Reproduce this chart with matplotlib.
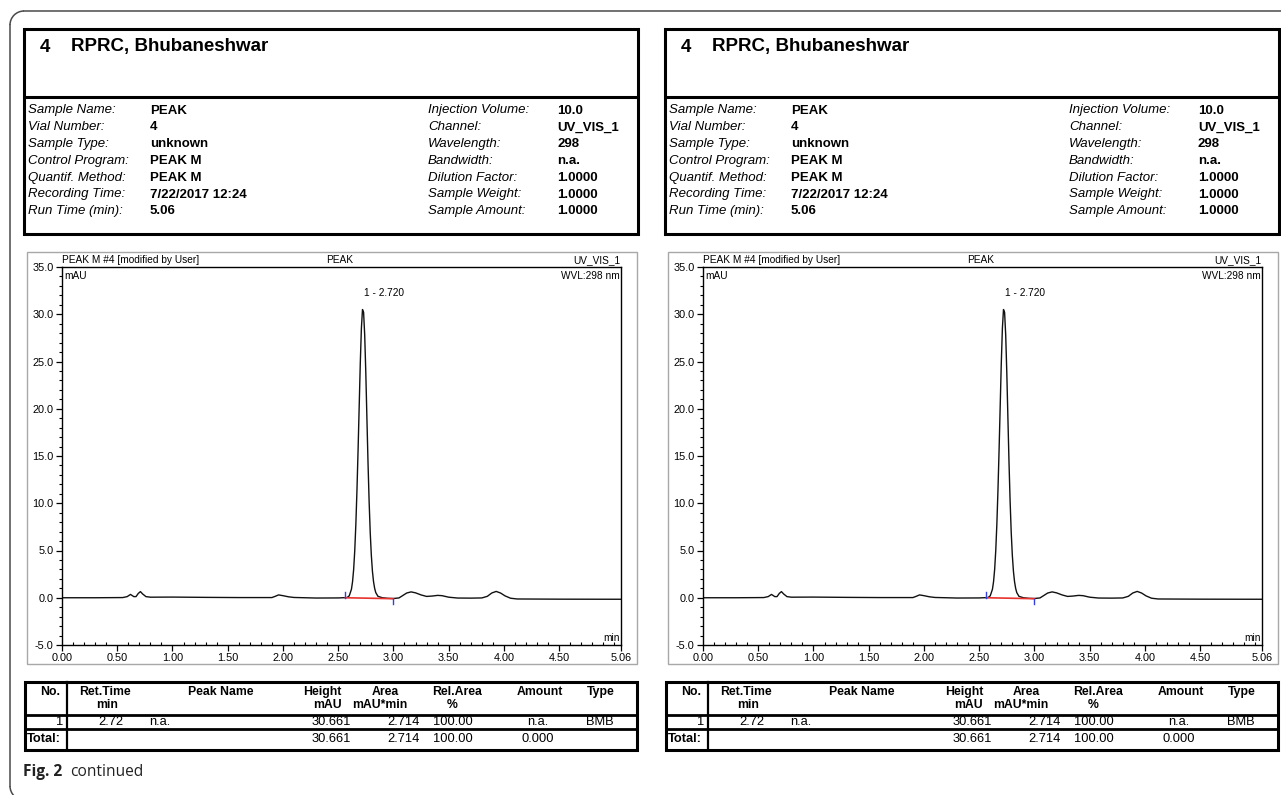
import matplotlib

matplotlib.use("Agg")
import matplotlib.pyplot as plt
from matplotlib.patches import Arc, Rectangle
from matplotlib.ticker import FixedLocator, MultipleLocator

plt.rcParams["font.family"] = ["Liberation Sans", "DejaVu Sans"]

W, H = 1281, 795

# report header
SAMPLE_NO = "4"
SITE = "RPRC, Bhubaneshwar"
INFO_LABELS_L = ["Sample Name:", "Vial Number:", "Sample Type:", "Control Program:",
                 "Quantif. Method:", "Recording Time:", "Run Time (min):"]
INFO_VALUES_L = ["PEAK", "4", "unknown", "PEAK M", "PEAK M", "7/22/2017 12:24", "5.06"]
INFO_LABELS_R = ["Injection Volume:", "Channel:", "Wavelength:", "Bandwidth:",
                 "Dilution Factor:", "Sample Weight:", "Sample Amount:"]
INFO_VALUES_R = ["10.0", "UV_VIS_1", "298", "n.a.", "1.0000", "1.0000", "1.0000"]

# chromatogram trace (min, mAU)
TIME_MIN = [0.00, 0.30, 0.55, 0.59, 0.62, 0.65, 0.67, 0.69, 0.71, 0.73, 0.76, 0.80,
            1.00, 1.30, 1.60, 1.90, 1.93, 1.96, 2.00, 2.05, 2.10, 2.30, 2.50, 2.58,
            2.60, 2.62, 2.63, 2.64, 2.65, 2.66, 2.67, 2.68, 2.69, 2.70, 2.71, 2.72,
            2.73, 2.74, 2.75, 2.76, 2.77, 2.78, 2.79, 2.80, 2.81, 2.82, 2.83, 2.84,
            2.86, 2.90, 2.95, 3.00, 3.05, 3.08, 3.12, 3.16, 3.20, 3.25, 3.30, 3.35,
            3.40, 3.44, 3.50, 3.58, 3.70, 3.80, 3.85, 3.89, 3.93, 3.97, 4.01, 4.06,
            4.12, 4.50, 5.06]
SIGNAL_MAU = [0.00, 0.00, 0.02, 0.12, 0.35, 0.12, 0.12, 0.45, 0.65, 0.40, 0.12, 0.06,
              0.07, 0.04, 0.02, 0.02, 0.15, 0.30, 0.22, 0.10, 0.03, -0.03, -0.02, 0.02,
              0.20, 0.90, 1.70, 3.00, 5.00, 7.80, 11.4, 15.6, 20.2, 24.8, 28.5, 30.5,
              30.2, 27.8, 23.8, 19.0, 14.3, 10.2, 6.90, 4.50, 2.80, 1.70, 1.00, 0.55,
              0.15, 0.00, -0.06, -0.08, -0.02, 0.20, 0.50, 0.62, 0.52, 0.30, 0.14, 0.18,
              0.25, 0.22, 0.06, -0.03, -0.04, -0.02, 0.15, 0.50, 0.67, 0.50, 0.20, -0.05,
              -0.13, -0.15, -0.16]

PEAK_LABEL = "1 - 2.720"
PEAK_RT = 2.720
PEAK_APEX = 30.5
BASE_T = [2.565, 3.00]
BASE_Y = [0.00, -0.10]

Y_TICKS = [-5.0, 0.0, 5.0, 10.0, 15.0, 20.0, 25.0, 30.0, 35.0]
X_TICKS = [0.00, 0.50, 1.00, 1.50, 2.00, 2.50, 3.00, 3.50, 4.00, 4.50, 5.06]

# peak table
ROW_1 = ["1", "2.72", "n.a.", "30.661", "2.714", "100.00", "n.a.", "BMB"]
ROW_TOTAL = ["Total:", "30.661", "2.714", "100.00", "0.000"]

fig = plt.figure(figsize=(W / 100, H / 100), dpi=100)
bg = fig.add_axes([0, 0, 1, 1])
bg.set_xlim(0, W)
bg.set_ylim(H, 0)
bg.axis("off")

# page frame: top and left edges with rounded corners
FRAME = "#4a4a4a"
bg.plot([24, W], [11, 11], color=FRAME, lw=1.1)
bg.plot([10, 10], [25, 786], color=FRAME, lw=1.1)
bg.add_patch(Arc((24, 25), 28, 28, theta1=180, theta2=270, color=FRAME, lw=1.1))
bg.add_patch(Arc((24, 786), 28, 28, theta1=90, theta2=180, color=FRAME, lw=1.1))


def box(x0, y0, x1, y1, lw=2.0, ec="black"):
    bg.add_patch(Rectangle((x0, y0), x1 - x0, y1 - y0, fill=False, ec=ec, lw=lw))


def hline(x0, x1, y, lw=2.0):
    bg.plot([x0, x1], [y, y], color="black", lw=lw, solid_capstyle="butt")


def txt(x, y, s, size=9.5, ha="left", **kw):
    bg.text(x, y, s, fontsize=size, ha=ha, va="center", **kw)


def draw_panel(dx):
    # header box
    box(24 + dx, 29, 638 + dx, 234, lw=2.2)
    hline(24 + dx, 638 + dx, 97, lw=2.2)
    txt(40 + dx, 47, SAMPLE_NO, size=13.5, weight="bold")
    txt(71 + dx, 47, SITE, size=13.5, weight="bold")
    for i in range(len(INFO_LABELS_L)):
        y = 110.5 + i * 16.8
        txt(28 + dx, y, INFO_LABELS_L[i], style="italic")
        txt(150 + dx, y, INFO_VALUES_L[i], weight="bold")
        txt(428 + dx, y, INFO_LABELS_R[i], style="italic")
        txt(557 + dx, y, INFO_VALUES_R[i], weight="bold")

    # chromatogram
    box(27 + dx, 252, 637 + dx, 664, lw=1.0, ec="#a8a8a8")
    ax = fig.add_axes([(62 + dx) / W, 1 - 645 / H, 559 / W, 378 / H])
    ax.set_facecolor("none")
    ax.plot(TIME_MIN, SIGNAL_MAU, color="#111111", lw=1.0)
    ax.plot(BASE_T, BASE_Y, color="#e8322e", lw=1.2)
    ax.plot([BASE_T[0], BASE_T[0]], [BASE_Y[0], BASE_Y[0] + 0.6], color="#2f3fe0", lw=1.0)
    ax.plot([BASE_T[1], BASE_T[1]], [BASE_Y[1], BASE_Y[1] - 0.6], color="#2f3fe0", lw=1.0)
    ax.text(PEAK_RT + 0.01, PEAK_APEX + 1.2, PEAK_LABEL, fontsize=7.3, ha="left", va="bottom")
    ax.set_xlim(X_TICKS[0], X_TICKS[-1])
    ax.set_ylim(Y_TICKS[0], Y_TICKS[-1])
    ax.xaxis.set_major_locator(FixedLocator(X_TICKS))
    ax.set_xticklabels([f"{v:.2f}" for v in X_TICKS])
    ax.xaxis.set_minor_locator(MultipleLocator(0.1))
    ax.yaxis.set_major_locator(FixedLocator(Y_TICKS))
    ax.set_yticklabels([f"{v:.1f}" for v in Y_TICKS])
    ax.yaxis.set_minor_locator(MultipleLocator(1.0))
    ax.tick_params(which="major", labelsize=7.8, length=4, width=0.9, pad=2)
    ax.tick_params(axis="x", which="minor", direction="in", length=2.5, width=0.8)
    ax.tick_params(axis="y", which="minor", direction="out", length=2.5, width=0.8)
    for s in ax.spines.values():
        s.set_linewidth(1.0)
    small = dict(fontsize=7.3, transform=ax.transAxes)
    ax.text(0.0, 1.004, "PEAK M #4 [modified by User]", ha="left", va="bottom", **small)
    ax.text(0.497, 1.004, "PEAK", ha="center", va="bottom", **small)
    ax.text(0.998, 1.004, "UV_VIS_1", ha="right", va="bottom", **small)
    ax.text(0.004, 0.99, "mAU", ha="left", va="top", **small)
    ax.text(0.998, 0.99, "WVL:298 nm", ha="right", va="top", **small)
    ax.text(0.998, 0.006, "min", ha="right", va="bottom", **small)

    # peak table
    box(25 + dx, 682, 637 + dx, 750, lw=2.2)
    hline(25 + dx, 637 + dx, 715, lw=2.0)
    hline(25 + dx, 637 + dx, 729, lw=2.0)
    bg.plot([67 + dx, 67 + dx], [682, 750], color="black", lw=1.6)
    hs = dict(size=8.8, weight="bold")
    txt(50 + dx, 692, "No.", ha="center", **hs)
    txt(105 + dx, 692, "Ret.Time", ha="center", **hs)
    txt(107 + dx, 705, "min", ha="center", **hs)
    txt(221 + dx, 692, "Peak Name", ha="center", **hs)
    txt(342 + dx, 692, "Height", ha="right", **hs)
    txt(342 + dx, 705, "mAU", ha="right", **hs)
    txt(385 + dx, 692, "Area", ha="center", **hs)
    txt(380 + dx, 705, "mAU*min", ha="center", **hs)
    txt(457 + dx, 692, "Rel.Area", ha="center", **hs)
    txt(452 + dx, 705, "%", ha="center", **hs)
    txt(540 + dx, 692, "Amount", ha="center", **hs)
    txt(601 + dx, 692, "Type", ha="center", **hs)

    vs = dict(size=9.3)
    y1 = 722
    txt(63 + dx, y1, ROW_1[0], ha="right", **vs)
    txt(111 + dx, y1, ROW_1[1], ha="center", **vs)
    txt(149 + dx, y1, ROW_1[2], **vs)
    txt(351 + dx, y1, ROW_1[3], ha="right", **vs)
    txt(420 + dx, y1, ROW_1[4], ha="right", **vs)
    txt(473 + dx, y1, ROW_1[5], ha="right", **vs)
    txt(548 + dx, y1, ROW_1[6], ha="right", **vs)
    txt(600 + dx, y1, ROW_1[7], ha="center", **vs)
    y2 = 739.5
    txt(27 + dx, y2, ROW_TOTAL[0], size=9.3, weight="bold")
    txt(351 + dx, y2, ROW_TOTAL[1], ha="right", **vs)
    txt(420 + dx, y2, ROW_TOTAL[2], ha="right", **vs)
    txt(473 + dx, y2, ROW_TOTAL[3], ha="right", **vs)
    txt(538 + dx, y2, ROW_TOTAL[4], ha="center", **vs)


draw_panel(0)
draw_panel(641)

bg.text(23, 772, "Fig. 2", fontsize=11.2, weight="bold", family=["Open Sans", "DejaVu Sans"],
        va="center", color="#222222")
bg.text(70, 772, "continued", fontsize=11.2, family=["Open Sans", "DejaVu Sans"],
        va="center", color="#222222")

fig.savefig("out.png", dpi=100)
